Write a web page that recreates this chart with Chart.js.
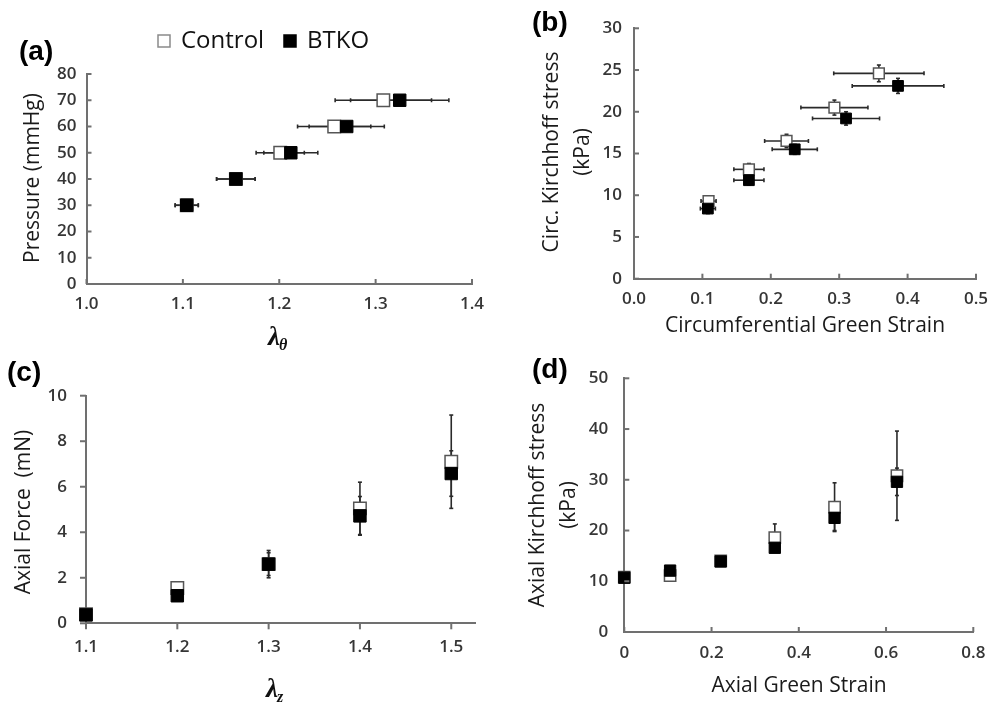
<!DOCTYPE html>
<html>
<head>
<meta charset="utf-8">
<title>Control vs BTKO mechanics</title>
<script src="https://cdn.jsdelivr.net/npm/chart.js@4.4.1/dist/chart.umd.min.js"></script>
<style>
  body { margin: 0; background: #fff; }
  #wrap { position: relative; width: 989px; height: 706px; }
  #wrap canvas { position: absolute; left: 0; top: 0; }
</style>
</head>
<body>
<div id="wrap">
  <canvas id="panelA" width="989" height="706"></canvas>
  <canvas id="panelB" width="989" height="706"></canvas>
  <canvas id="panelC" width="989" height="706"></canvas>
  <canvas id="panelD" width="989" height="706"></canvas>
</div>
<script>
// ---- (a) pressure vs circumferential stretch
const aPressure = [30, 40, 50, 60, 70];
const aStretchCtrl = [1.104, 1.155, 1.201, 1.257, 1.308];
const aStretchCtrlSd = [0.012, 0.020, 0.025, 0.038, 0.050];
const aStretchBtko = [1.104, 1.155, 1.212, 1.270, 1.325];
const aStretchBtkoSd = [0.012, 0.020, 0.028, 0.039, 0.051];
const aXTicks = [1.0, 1.1, 1.2, 1.3, 1.4];
const aYTicks = [0, 10, 20, 30, 40, 50, 60, 70, 80];

// ---- (b) circ. Kirchhoff stress vs circ. Green strain
const bStrainCtrl = [0.109, 0.168, 0.223, 0.293, 0.358];
const bStrainCtrlSd = [0.011, 0.022, 0.032, 0.049, 0.066];
const bStressCtrl = [9.3, 13.1, 16.5, 20.5, 24.6];
const bStressCtrlSd = [0.6, 0.7, 0.8, 0.9, 1.0];
const bStrainBtko = [0.108, 0.168, 0.235, 0.310, 0.386];
const bStrainBtkoSd = [0.011, 0.022, 0.033, 0.049, 0.067];
const bStressBtko = [8.4, 11.8, 15.5, 19.2, 23.1];
const bStressBtkoSd = [0.6, 0.6, 0.6, 0.8, 0.9];
const bXTicks = [0.0, 0.1, 0.2, 0.3, 0.4, 0.5];
const bYTicks = [0, 5, 10, 15, 20, 25, 30];

// ---- (c) axial force vs axial stretch
const cStretch = [1.1, 1.2, 1.3, 1.4, 1.5];
const cForceCtrl = [0.4, 1.55, 2.6, 5.05, 7.1];
const cForceCtrlSd = [0.1, 0.25, 0.5, 1.15, 2.05];
const cForceBtko = [0.37, 1.21, 2.6, 4.72, 6.58];
const cForceBtkoSd = [0.1, 0.15, 0.6, 0.85, 1.0];
const cXTicks = [1.1, 1.2, 1.3, 1.4, 1.5];
const cYTicks = [0, 2, 4, 6, 8, 10];

// ---- (d) axial Kirchhoff stress vs axial Green strain
const dStrain = [0, 0.105, 0.221, 0.345, 0.482, 0.625];
const dStressCtrl = [10.8, 11.1, 14.0, 18.6, 24.6, 30.8];
const dStressCtrlSd = [0.5, 1.0, 0.6, 2.7, 4.8, 8.8];
const dStressBtko = [10.7, 12.1, 13.9, 16.6, 22.5, 29.6];
const dStressBtkoSd = [0.5, 0.5, 0.5, 0.8, 2.5, 2.7];
const dXTicks = [0, 0.2, 0.4, 0.6, 0.8];
const dYTicks = [0, 10, 20, 30, 40, 50];

const AXIS_COLOR = '#707070';
const SANS = '"Open Sans", "DejaVu Sans", sans-serif';
const W = 989, H = 706;

function pts(xs, ys) {
  return xs.map((x, i) => ({ x: x, y: ys[i] }));
}

function ctrlSet(data, xErr, yErr, r) {
  return {
    label: 'Control', data: data, xErr: xErr, yErr: yErr, order: 2,
    pointStyle: 'rect', pointRadius: r, pointHoverRadius: r,
    pointBackgroundColor: '#ffffff', pointBorderColor: '#555555', pointBorderWidth: 1.5,
    showLine: false, clip: false
  };
}
function btkoSet(data, xErr, yErr, r) {
  return {
    label: 'BTKO', data: data, xErr: xErr, yErr: yErr, order: 1,
    pointStyle: 'rect', pointRadius: r, pointHoverRadius: r,
    pointBackgroundColor: '#000000', pointBorderColor: '#000000', pointBorderWidth: 1,
    showLine: false, clip: false
  };
}

function scale(pos, min, max, ticks, size, pad, fmt) {
  return {
    type: 'linear', position: pos, min: min, max: max,
    afterBuildTicks: s => { s.ticks = ticks.map(v => ({ value: v })); },
    afterFit: s => {
      if (pos === 'left') s.width = size; else s.height = size;
      s.paddingLeft = 0; s.paddingRight = 0; s.paddingTop = 0; s.paddingBottom = 0;
    },
    grid: { display: false, drawTicks: false },
    border: { display: true, color: AXIS_COLOR, width: 2 },
    ticks: {
      autoSkip: false, padding: pad, color: '#363636',
      font: { family: SANS, size: 17, weight: '600' },
      callback: v => fmt(v)
    }
  };
}

function line(ctx, x1, y1, x2, y2) {
  ctx.beginPath(); ctx.moveTo(x1, y1); ctx.lineTo(x2, y2); ctx.stroke();
}

function drawLambda(ctx, x, y, sub) {
  ctx.fillStyle = '#111';
  ctx.textAlign = 'left';
  ctx.textBaseline = 'alphabetic';
  ctx.font = 'italic bold 27px "Liberation Serif", "DejaVu Serif", serif';
  ctx.fillText('\u03bb', x, y);
  const w = ctx.measureText('\u03bb').width;
  ctx.font = 'italic bold 16px "Liberation Serif", "DejaVu Serif", serif';
  ctx.fillText(sub, x + w - 1, y + 5);
}

function drawRotated(ctx, lines, x0, gap, cy) {
  ctx.save();
  ctx.fillStyle = '#1a1a1a';
  ctx.font = '21px ' + SANS;
  ctx.textAlign = 'center';
  ctx.textBaseline = 'middle';
  lines.forEach((t, i) => {
    ctx.save();
    ctx.translate(x0 + i * gap, cy);
    ctx.rotate(-Math.PI / 2);
    ctx.fillText(t, 0, 0);
    ctx.restore();
  });
  ctx.restore();
}

function makeDecor(p) {
  return {
    id: 'decor',
    beforeDatasetsDraw(chart) {
      const ctx = chart.ctx, xs = chart.scales.x, ys = chart.scales.y;
      ctx.save();
      ctx.strokeStyle = '#2a2a2a';
      ctx.lineWidth = 1.6;
      chart.data.datasets.forEach(ds => {
        ds.data.forEach((pt, i) => {
          const px = xs.getPixelForValue(pt.x), py = ys.getPixelForValue(pt.y);
          if (ds.xErr) {
            const a = xs.getPixelForValue(pt.x - ds.xErr[i]);
            const b = xs.getPixelForValue(pt.x + ds.xErr[i]);
            line(ctx, a, py, b, py);
            line(ctx, a, py - 2, a, py + 2);
            line(ctx, b, py - 2, b, py + 2);
          }
          if (ds.yErr) {
            const a = ys.getPixelForValue(pt.y - ds.yErr[i]);
            const b = ys.getPixelForValue(pt.y + ds.yErr[i]);
            line(ctx, px, a, px, b);
            line(ctx, px - 2, a, px + 2, a);
            line(ctx, px - 2, b, px + 2, b);
          }
        });
      });
      ctx.restore();
    },
    afterDraw(chart) {
      const ctx = chart.ctx, xs = chart.scales.x, ys = chart.scales.y;
      const area = chart.chartArea;
      ctx.save();
      // tick marks
      ctx.strokeStyle = AXIS_COLOR;
      ctx.lineWidth = 2;
      const d = p.ticksIn ? 1 : -1;
      xs.ticks.forEach(t => {
        const x = xs.getPixelForValue(t.value);
        line(ctx, x, area.bottom, x, area.bottom - d * p.tickLen);
      });
      ys.ticks.forEach(t => {
        const y = ys.getPixelForValue(t.value);
        line(ctx, area.left, y, area.left + d * p.tickLen, y);
      });
      // panel label
      ctx.fillStyle = '#000';
      ctx.font = 'bold 28px "Liberation Sans", Arial, sans-serif';
      ctx.textAlign = 'left';
      ctx.textBaseline = 'alphabetic';
      ctx.fillText(p.label, p.labelX, p.labelY);
      // axis titles
      drawRotated(ctx, p.yTitle, p.yTitleX, p.yTitleGap, p.yTitleY);
      if (p.xLambda) {
        drawLambda(ctx, p.xTitleX, p.xTitleY, p.xLambda);
      } else {
        ctx.fillStyle = '#1a1a1a';
        ctx.font = '21px ' + SANS;
        ctx.textAlign = 'center';
        ctx.textBaseline = 'middle';
        ctx.fillText(p.xTitle, p.xTitleX, p.xTitleY);
      }
      // legend (panel a only)
      if (p.legend) {
        const ds = chart.data.datasets;
        ctx.font = '24px ' + SANS;
        ctx.textBaseline = 'middle';
        ctx.textAlign = 'left';
        p.legend.forEach((it, i) => {
          const s = ds[i];
          ctx.fillStyle = s.pointBackgroundColor;
          ctx.strokeStyle = i === 0 ? '#8a8a8a' : '#000';
          ctx.lineWidth = 1.5;
          ctx.fillRect(it.x - 6, it.y - 6, 12, 12);
          ctx.strokeRect(it.x - 6, it.y - 6, 12, 12);
          ctx.fillStyle = '#111';
          ctx.fillText(s.label, it.x + 17, it.y);
        });
      }
      ctx.restore();
    }
  };
}

function makePanel(id, box, datasets, xScale, yScale, decor) {
  // box: chart-area edges in page pixels
  const yW = 60, xH = 40;
  return new Chart(document.getElementById(id), {
    type: 'scatter',
    data: { datasets: datasets },
    options: {
      responsive: false,
      devicePixelRatio: 1,
      animation: false,
      events: [],
      layout: {
        padding: {
          left: box.left - yW,
          top: box.top,
          right: W - box.right,
          bottom: H - box.bottom - xH
        }
      },
      scales: { x: xScale, y: yScale },
      plugins: { legend: { display: false }, tooltip: { enabled: false } }
    },
    plugins: [makeDecor(decor)]
  });
}

const f1 = v => v.toFixed(1);
const f0 = v => String(v);

makePanel('panelA', { left: 86.5, top: 74, right: 472, bottom: 284 },
  [ctrlSet(pts(aStretchCtrl, aPressure), aStretchCtrlSd, null, 8.8),
   btkoSet(pts(aStretchBtko, aPressure), aStretchBtkoSd, null, 8.8)],
  scale('bottom', 1.0, 1.4, aXTicks, 40, 10, f1),
  scale('left', 0, 80, aYTicks, 60, 10, f0),
  { ticksIn: true, tickLen: 5, label: '(a)', labelX: 19, labelY: 60,
    yTitle: ['Pressure (mmHg)'], yTitleX: 33, yTitleGap: 0, yTitleY: 178,
    xLambda: '\u03b8', xTitleX: 268, xTitleY: 345,
    legend: [{ x: 164, y: 41 }, { x: 290, y: 41 }] });

makePanel('panelB', { left: 634, top: 28.3, right: 976, bottom: 278.7 },
  [ctrlSet(pts(bStrainCtrl, bStressCtrl), bStrainCtrlSd, bStressCtrlSd, 7.6),
   btkoSet(pts(bStrainBtko, bStressBtko), bStrainBtkoSd, bStressBtkoSd, 7.6)],
  scale('bottom', 0, 0.5, bXTicks, 40, 10, f1),
  scale('left', 0, 30, bYTicks, 60, 12, f0),
  { ticksIn: true, tickLen: 5, label: '(b)', labelX: 532, labelY: 31,
    yTitle: ['Circ. Kirchhoff stress', '(kPa)'], yTitleX: 552, yTitleGap: 31, yTitleY: 152,
    xTitle: 'Circumferential Green Strain', xTitleX: 805, xTitleY: 326 });

makePanel('panelC', { left: 86, top: 395.7, right: 475, bottom: 623.3 },
  [ctrlSet(pts(cStretch, cForceCtrl), null, cForceCtrlSd, 8.8),
   btkoSet(pts(cStretch, cForceBtko), null, cForceBtkoSd, 8.8)],
  scale('bottom', 1.1, 1.526, cXTicks, 40, 14, f1),
  scale('left', 0, 10, cYTicks, 60, 19, f0),
  { ticksIn: false, tickLen: 6, label: '(c)', labelX: 7, labelY: 381,
    yTitle: ['Axial Force  (mN)'], yTitleX: 24, yTitleGap: 0, yTitleY: 512,
    xLambda: 'z', xTitleX: 266, xTitleY: 697 });

makePanel('panelD', { left: 624.3, top: 378.3, right: 973.3, bottom: 632 },
  [ctrlSet(pts(dStrain, dStressCtrl), null, dStressCtrlSd, 8),
   btkoSet(pts(dStrain, dStressBtko), null, dStressBtkoSd, 8)],
  scale('bottom', 0, 0.8, dXTicks, 40, 11, f0),
  scale('left', 0, 50, dYTicks, 60, 16, f0),
  { ticksIn: true, tickLen: 5, label: '(d)', labelX: 532, labelY: 378,
    yTitle: ['Axial Kirchhoff stress', '(kPa)'], yTitleX: 538, yTitleGap: 31, yTitleY: 505,
    xTitle: 'Axial Green Strain', xTitleX: 799, xTitleY: 686 });
</script>
</body>
</html>
